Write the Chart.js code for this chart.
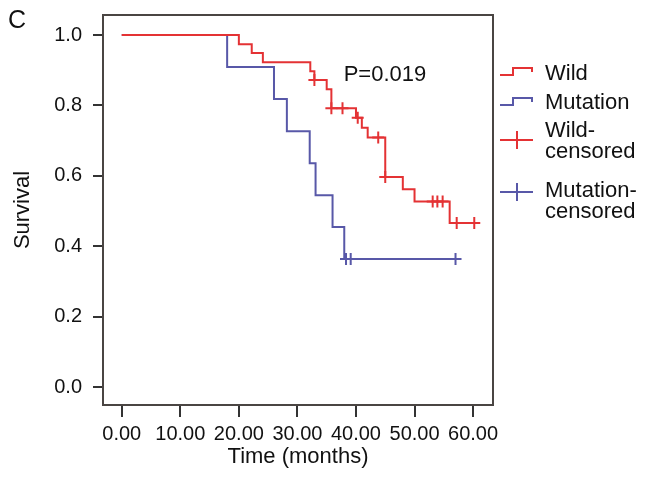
<!DOCTYPE html>
<html>
<head>
<meta charset="utf-8">
<script src="https://cdn.jsdelivr.net/npm/chart.js@4.4.1/dist/chart.umd.min.js"></script>
<style>
  html, body { margin: 0; padding: 0; background: #fff; }
  #wrap { width: 646px; height: 479px; }
</style>
</head>
<body>
<div id="wrap"><canvas id="myChart" width="646" height="479"></canvas></div>
<script>
// Kaplan-Meier step values (time in months, survival)
const wildTime = [0, 20.0, 22.2, 24.1, 32.2, 32.9, 35.0, 35.8, 40.0, 41.0, 42.0, 45.0, 48.0, 50.0, 56.0, 60.2];
const wildSurv = [1.0, 0.974, 0.949, 0.923, 0.897, 0.872, 0.846, 0.792, 0.765, 0.737, 0.709, 0.597, 0.562, 0.527, 0.466, 0.466];
const mutTime = [0, 18.0, 26.0, 28.2, 32.1, 33.1, 36.0, 38.0, 57.0];
const mutSurv = [1.0, 0.909, 0.818, 0.727, 0.636, 0.545, 0.455, 0.364, 0.364];
const wildCensored = [32.9, 35.8, 37.7, 40.3, 43.8, 45.0, 53.1, 53.9, 54.8, 57.2, 60.2];
const mutCensored = [38.3, 39.1, 57.0];

const xTicks = [0, 10, 20, 30, 40, 50, 60];
const yTicks = [0, 0.2, 0.4, 0.6, 0.8, 1.0];
const legendLabels = [['Wild'], ['Mutation'], ['Wild-', 'censored'], ['Mutation-', 'censored']];
const pText = 'P=0.019';
const panelLabel = 'C';

const red = 'rgb(228,50,52)';
const blue = 'rgb(88,88,168)';
const fontFam = '"Liberation Sans", Arial, Helvetica, sans-serif';

function survAt(times, surv, t) {
    let s = surv[0];
    for (let i = 0; i < times.length; i++) {
        if (times[i] <= t) s = surv[i];
    }
    return s;
}

function pts(times, vals) {
    return times.map((t, i) => ({x: t, y: vals[i]}));
}

const framePlugin = {
    id: 'frame',
    afterDraw(chart) {
        const ctx = chart.ctx;
        const a = chart.chartArea;
        ctx.save();
        ctx.strokeStyle = '#4a4543';
        ctx.lineWidth = 2;
        ctx.strokeRect(a.left, a.top, a.right - a.left, a.bottom - a.top);

        // P value
        const xs = chart.scales.x, ys = chart.scales.y;
        ctx.fillStyle = '#111';
        ctx.font = '22px ' + fontFam;
        ctx.textAlign = 'left';
        ctx.textBaseline = 'middle';
        ctx.fillText(pText, xs.getPixelForValue(37.9), ys.getPixelForValue(0.886));

        // panel letter
        ctx.font = '25px ' + fontFam;
        ctx.textBaseline = 'alphabetic';
        ctx.fillText(panelLabel, 8, 28);

        // legend
        const lx = a.right + 7;
        const tx = a.right + 52;
        ctx.lineWidth = 2;
        // Wild step symbol
        ctx.strokeStyle = red;
        ctx.beginPath();
        ctx.moveTo(lx, 75); ctx.lineTo(lx + 13, 75); ctx.lineTo(lx + 13, 68); ctx.lineTo(lx + 32, 68); ctx.lineTo(lx + 32, 72);
        ctx.stroke();
        // Mutation step symbol
        ctx.strokeStyle = blue;
        ctx.beginPath();
        ctx.moveTo(lx, 105); ctx.lineTo(lx + 13, 105); ctx.lineTo(lx + 13, 98); ctx.lineTo(lx + 32, 98); ctx.lineTo(lx + 32, 102);
        ctx.stroke();
        // censored crosses
        ctx.strokeStyle = red;
        ctx.beginPath();
        ctx.moveTo(lx, 140); ctx.lineTo(lx + 33, 140);
        ctx.moveTo(lx + 17, 131); ctx.lineTo(lx + 17, 149);
        ctx.stroke();
        ctx.strokeStyle = blue;
        ctx.beginPath();
        ctx.moveTo(lx, 192); ctx.lineTo(lx + 33, 192);
        ctx.moveTo(lx + 17, 183); ctx.lineTo(lx + 17, 201);
        ctx.stroke();

        ctx.fillStyle = '#111';
        ctx.font = '22px ' + fontFam;
        ctx.textAlign = 'left';
        ctx.textBaseline = 'alphabetic';
        const baselines = [[80], [109], [137, 158], [197, 218]];
        legendLabels.forEach((lines, i) => {
            lines.forEach((s, j) => ctx.fillText(s, tx, baselines[i][j]));
        });
        ctx.restore();
    }
};

const ctx = document.getElementById('myChart').getContext('2d');
const myChart = new Chart(ctx, {
    type: 'line',
    data: {
        datasets: [
            {
                label: 'Wild',
                data: pts(wildTime, wildSurv),
                borderColor: red,
                borderWidth: 2,
                stepped: true,
                pointRadius: 0,
                fill: false
            },
            {
                label: 'Mutation',
                data: pts(mutTime, mutSurv),
                borderColor: blue,
                borderWidth: 2,
                stepped: true,
                pointRadius: 0,
                fill: false
            },
            {
                label: 'Wild-censored',
                data: wildCensored.map(t => ({x: t, y: survAt(wildTime, wildSurv, t)})),
                showLine: false,
                pointStyle: 'cross',
                pointRadius: 6,
                pointBorderWidth: 2,
                borderColor: red,
                backgroundColor: red
            },
            {
                label: 'Mutation-censored',
                data: mutCensored.map(t => ({x: t, y: survAt(mutTime, mutSurv, t)})),
                showLine: false,
                pointStyle: 'cross',
                pointRadius: 6,
                pointBorderWidth: 2,
                borderColor: blue,
                backgroundColor: blue
            }
        ]
    },
    options: {
        responsive: false,
        animation: false,
        devicePixelRatio: 1,
        layout: { padding: { left: 0, right: 153, top: 0, bottom: 0 } },
        plugins: {
            legend: { display: false },
            tooltip: { enabled: false }
        },
        scales: {
            x: {
                type: 'linear',
                min: -3.2,
                max: 63.4,
                afterBuildTicks: (scale) => { scale.ticks = xTicks.map(v => ({value: v})); },
                afterFit: (scale) => { scale.height = 74; },
                grid: { drawOnChartArea: false, drawTicks: true, tickLength: 12, color: '#333', lineWidth: 2 },
                border: { display: false },
                ticks: {
                    padding: 5,
                    color: '#111',
                    font: { family: fontFam, size: 20 },
                    maxRotation: 0,
                    autoSkip: false,
                    callback: (v) => v.toFixed(2)
                },
                title: {
                    display: true,
                    text: 'Time (months)',
                    color: '#111',
                    font: { family: fontFam, size: 22 },
                    padding: { top: 0, bottom: 9 }
                }
            },
            y: {
                type: 'linear',
                min: -0.051,
                max: 1.057,
                afterBuildTicks: (scale) => { scale.ticks = yTicks.map(v => ({value: v})); },
                afterFit: (scale) => {
                    scale.width = 103;
                    scale.paddingTop = 15;
                    scale.paddingBottom = 0;
                },
                grid: { drawOnChartArea: false, drawTicks: true, tickLength: 10, color: '#333', lineWidth: 2 },
                border: { display: false },
                ticks: {
                    padding: 11,
                    color: '#111',
                    font: { family: fontFam, size: 20 },
                    autoSkip: false,
                    callback: (v) => v.toFixed(1)
                },
                title: {
                    display: true,
                    text: 'Survival',
                    color: '#111',
                    font: { family: fontFam, size: 22 },
                    padding: { top: 10, bottom: 0 }
                }
            }
        }
    },
    plugins: [framePlugin]
});
</script>
</body>
</html>
